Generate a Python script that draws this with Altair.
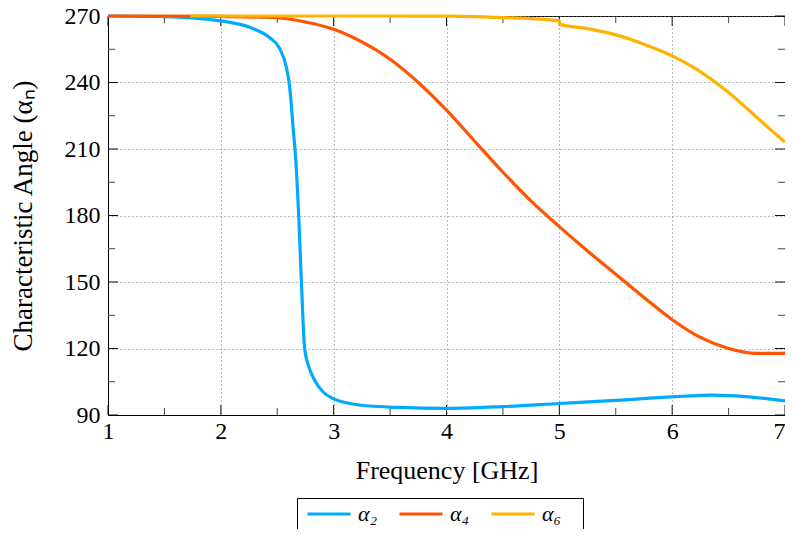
import altair as alt
import pandas as pd

series_names = ["α₂", "α₄", "α₆"]
series_colors = ["#00AAFF", "#FF5500", "#FFB300"]

a2_freq = [1.0, 1.5, 2.0, 2.26, 2.43, 2.52, 2.58, 2.61, 2.64, 2.664, 2.69, 2.714, 2.743,
           2.79, 2.83, 2.905, 2.99, 3.23, 3.58, 4.0, 4.5, 5.0, 5.5, 6.0, 6.36, 6.65, 7.0]
a2_angle = [270, 269.7, 267.8, 264.8, 260.3, 255.5, 247, 238, 220, 205, 180, 150, 120,
            110.3, 105.8, 100.5, 97.5, 94.5, 93.4, 93.0, 93.8, 95.2, 96.6, 98.2, 99.0, 98.3, 96.4]

a4_freq = [1.0, 1.5, 2.0, 2.5, 2.75, 3.0, 3.25, 3.5, 3.75, 4.0, 4.25, 4.5, 4.75, 5.0,
           5.25, 5.5, 5.75, 6.0, 6.25, 6.5, 6.75, 7.0]
a4_angle = [270, 270, 269.8, 269.2, 267.3, 264.0, 258.3, 250.5, 240.0, 227.5, 213.5, 199.5,
            186.5, 175.0, 164.0, 153.5, 143.0, 133.0, 125.0, 120.0, 117.8, 117.8]

a6_freq = [1.73, 2.5, 3.5, 4.0, 4.5, 5.0, 5.005, 5.25, 5.5, 5.75, 6.0, 6.2, 6.5, 6.8, 7.0]
a6_angle = [270, 270, 270, 269.9, 269.3, 267.8, 266.3, 264.3, 261.5, 257.3, 252, 246.5,
            235.5, 222, 213]

x_major = [1, 2, 3, 4, 5, 6, 7]
x_minor = [1.5, 2.5, 3.5, 4.5, 5.5, 6.5]
y_major = [90, 120, 150, 180, 210, 240, 270]
y_minor = [105, 135, 165, 195, 225, 255]

W, H = 677, 399
FONT = "Liberation Serif"

rows = []
for name, fs, ans in zip(series_names, [a2_freq, a4_freq, a6_freq], [a2_angle, a4_angle, a6_angle]):
    for f, a in zip(fs, ans):
        rows.append({"series": name, "freq": f, "angle": a})
df = pd.DataFrame(rows)

xs = alt.Scale(domain=[1, 7], nice=False, zero=False)
ys = alt.Scale(domain=[90, 270], nice=False, zero=False)

x_axis = alt.Axis(values=x_major, title="Frequency [GHz]", format="d", tickSize=0,
                  labelFlush=False, labelPadding=4, titlePadding=14, titleFontSize=26,
                  labelAlign={"condition": {"test": "datum.value == 7", "value": "right"},
                              "value": "center"},
                  grid=True)
y_axis = alt.Axis(values=y_major, title="Characteristic Angle (αₙ)", format="d", tickSize=0,
                  labelFlush=False, labelPadding=8, titlePadding=27, titleFontSize=27,
                  grid=True)

lines = alt.Chart(df).mark_line(strokeWidth=3.2, interpolate="monotone").encode(
    x=alt.X("freq:Q", scale=xs, axis=x_axis),
    y=alt.Y("angle:Q", scale=ys, axis=y_axis),
    color=alt.Color("series:N", scale=alt.Scale(domain=series_names, range=series_colors),
                    legend=alt.Legend(
                        orient="none", legendX=189, legendY=482, direction="horizontal",
                        title=None, strokeColor="black", fillColor="white", padding=5,
                        symbolType="M-1.1,0H7.5", symbolSize=100, symbolStrokeWidth=3.2,
                        labelFont=FONT, labelFontSize=22, labelFontStyle="italic",
                        labelColor="black",
                        labelExpr="datum.label + '\u2800'",
                        labelOffset=34, columnPadding=-2.5, cornerRadius=0)),
)

def xticks(vals, length, color):
    d = pd.DataFrame({"v": vals})
    bottom = alt.Chart(d).mark_rule(color=color, strokeWidth=1).encode(
        x=alt.X("v:Q", scale=xs, axis=x_axis), y=alt.value(H), y2=alt.value(H - length))
    top = alt.Chart(d).mark_rule(color=color, strokeWidth=1).encode(
        x=alt.X("v:Q", scale=xs, axis=x_axis), y=alt.value(0), y2=alt.value(length))
    return [bottom, top]

def yticks(vals, length, color):
    d = pd.DataFrame({"v": vals})
    left = alt.Chart(d).mark_rule(color=color, strokeWidth=1).encode(
        y=alt.Y("v:Q", scale=ys, axis=y_axis), x=alt.value(0), x2=alt.value(length))
    right = alt.Chart(d).mark_rule(color=color, strokeWidth=1).encode(
        y=alt.Y("v:Q", scale=ys, axis=y_axis), x=alt.value(W), x2=alt.value(W - length))
    return [left, right]

layers = (xticks(x_major, 10, "#111") + xticks(x_minor, 7, "#444")
          + yticks(y_major, 10, "#111") + yticks(y_minor, 7, "#444") + [lines])

chart = alt.layer(*layers).properties(
    width=W, height=H,
    background="white",
    autosize=alt.AutoSizeParams(type="none"),
    padding={"left": 100, "top": 8, "right": 0, "bottom": 114},
).configure_view(
    stroke="black", strokeWidth=1
).configure_axis(
    labelFont=FONT, labelFontSize=24, labelColor="black",
    titleFont=FONT, titleFontWeight="normal", titleColor="black",
    domainColor="black", domainWidth=1,
    gridColor="#777", gridDash=[1, 3], gridWidth=1, gridOpacity=1,
)

chart.save("out.html", embed_options={"renderer": "svg", "actions": False})
